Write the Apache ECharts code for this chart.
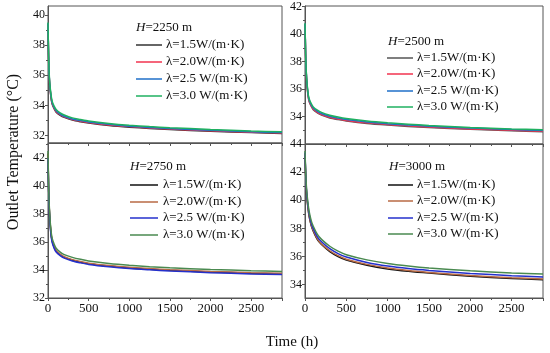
<!DOCTYPE html>
<html>
<head>
<meta charset="utf-8">
<script src="https://cdn.jsdelivr.net/npm/echarts@6/dist/echarts.min.js"></script>
<style>html,body{margin:0;padding:0;background:#fff}#c{width:550px;height:353px}</style>
</head>
<body>
<div id="c"></div>
<script>
// ---- data ----
const times = [0, 5, 10, 20, 35, 50, 75, 100, 150, 200, 300, 400, 500, 750, 1000, 1250, 1500, 2000, 2500, 2880];
const xTicks = [0, 500, 1000, 1500, 2000, 2500];
const lambdaLabels = ['λ=1.5W/(m·K)', 'λ=2.0W/(m·K)', 'λ=2.5 W/(m·K)', 'λ=3.0 W/(m·K)'];
const depthLabels = ['2250', '2500', '2750', '3000'];

// H = 2250 m
const h2250_l15 = [39.4, 37.8, 36.6, 35.4, 34.6, 34.1, 33.78, 33.55, 33.34, 33.2, 33.02, 32.91, 32.82, 32.66, 32.55, 32.47, 32.4, 32.28, 32.19, 32.13];
const h2250_l20 = [39.4, 37.85, 36.65, 35.45, 34.65, 34.15, 33.82, 33.6, 33.38, 33.24, 33.06, 32.95, 32.86, 32.7, 32.59, 32.5, 32.43, 32.31, 32.22, 32.16];
const h2250_l25 = [39.45, 37.9, 36.7, 35.5, 34.7, 34.2, 33.87, 33.65, 33.42, 33.28, 33.1, 32.99, 32.9, 32.74, 32.62, 32.53, 32.46, 32.34, 32.25, 32.19];
const h2250_l30 = [39.5, 38.0, 36.8, 35.6, 34.8, 34.3, 33.95, 33.73, 33.5, 33.36, 33.17, 33.06, 32.96, 32.8, 32.68, 32.59, 32.52, 32.4, 32.3, 32.24];
// H = 2500 m
const h2500_l15 = [40.7, 39.2, 37.9, 36.6, 35.6, 35.1, 34.75, 34.5, 34.26, 34.1, 33.9, 33.78, 33.68, 33.5, 33.38, 33.28, 33.2, 33.07, 32.97, 32.9];
const h2500_l20 = [40.7, 39.25, 37.95, 36.65, 35.65, 35.15, 34.8, 34.55, 34.31, 34.15, 33.95, 33.82, 33.72, 33.54, 33.42, 33.32, 33.24, 33.1, 33.0, 32.93];
const h2500_l25 = [40.75, 39.3, 38.0, 36.72, 35.72, 35.22, 34.87, 34.62, 34.38, 34.22, 34.02, 33.89, 33.78, 33.6, 33.48, 33.38, 33.3, 33.16, 33.05, 32.98];
const h2500_l30 = [40.8, 39.4, 38.1, 36.8, 35.8, 35.3, 34.95, 34.7, 34.46, 34.3, 34.1, 33.96, 33.85, 33.67, 33.54, 33.44, 33.35, 33.21, 33.1, 33.03];
// H = 2750 m
const h2750_l15 = [42.3, 40.6, 39.3, 37.9, 36.7, 36.1, 35.65, 35.35, 35.08, 34.9, 34.7, 34.56, 34.45, 34.28, 34.15, 34.06, 33.98, 33.86, 33.77, 33.72];
const h2750_l20 = [42.3, 40.65, 39.35, 37.95, 36.75, 36.15, 35.7, 35.4, 35.13, 34.95, 34.74, 34.6, 34.49, 34.32, 34.19, 34.1, 34.02, 33.9, 33.81, 33.76];
const h2750_l25 = [42.0, 40.5, 39.2, 37.8, 36.6, 36.0, 35.56, 35.28, 35.02, 34.85, 34.64, 34.51, 34.4, 34.23, 34.1, 34.01, 33.93, 33.81, 33.72, 33.67];
const h2750_l30 = [42.5, 40.8, 39.5, 38.1, 36.9, 36.3, 35.85, 35.55, 35.28, 35.1, 34.9, 34.76, 34.65, 34.47, 34.34, 34.24, 34.16, 34.04, 33.95, 33.9];
// H = 3000 m
const h3000_l15 = [43.3, 42.3, 41.5, 40.4, 39.5, 38.85, 38.2, 37.8, 37.2, 36.85, 36.35, 36.0, 35.75, 35.38, 35.12, 34.95, 34.82, 34.6, 34.44, 34.35];
const h3000_l20 = [43.3, 42.35, 41.55, 40.45, 39.55, 38.9, 38.25, 37.85, 37.26, 36.9, 36.41, 36.06, 35.81, 35.44, 35.18, 35.0, 34.87, 34.65, 34.49, 34.4];
const h3000_l25 = [43.4, 42.45, 41.65, 40.55, 39.68, 39.03, 38.38, 37.98, 37.4, 37.05, 36.56, 36.21, 35.96, 35.58, 35.32, 35.14, 35.01, 34.8, 34.64, 34.55];
const h3000_l30 = [43.5, 42.6, 41.8, 40.7, 39.85, 39.2, 38.55, 38.15, 37.57, 37.22, 36.73, 36.38, 36.13, 35.76, 35.5, 35.32, 35.18, 34.98, 34.83, 34.75];

// y tick labels per panel
const yLabels0 = [32, 34, 36, 38, 40];
const yLabels1 = [34, 36, 38, 40, 42];
const yLabels2 = [32, 34, 36, 38, 40, 42];
const yLabels3 = [34, 36, 38, 40, 42, 44];
const yMinor0 = [33, 35, 37, 39];
const yMinor1 = [33, 35, 37, 39, 41];
const yMinor2 = [33, 35, 37, 39, 41, 43];
const yMinor3 = [35, 37, 39, 41, 43];

// ---- layout / style ----
const FONT = '"Liberation Serif", "DejaVu Serif", serif';
const panels = [
  {grid: {left: 48, top: 6, width: 234, height: 137}, yMin: 31.5, yMax: 40.6, labels: yLabels0, minor: yMinor0, xLabels: false,
   data: [h2250_l15, h2250_l20, h2250_l25, h2250_l30], colors: ['#333333', '#f2334f', '#1f6fc8', '#1fb060'],
   leg: {hx: 136, hy: 28, ys: [45, 62, 79, 96], x0: 136, x1: 162, tx: 166}},
  {grid: {left: 305, top: 6, width: 238, height: 138}, yMin: 32, yMax: 42.05, labels: yLabels1, minor: yMinor1, xLabels: false,
   data: [h2500_l15, h2500_l20, h2500_l25, h2500_l30], colors: ['#555555', '#f2334f', '#1f6fc8', '#1fb060'],
   leg: {hx: 388, hy: 42, ys: [58, 74, 91, 107], x0: 387, x1: 413, tx: 417}},
  {grid: {left: 48, top: 143, width: 234, height: 155}, yMin: 32, yMax: 43.07, labels: yLabels2, minor: yMinor2, xLabels: true,
   data: [h2750_l15, h2750_l20, h2750_l25, h2750_l30], colors: ['#111111', '#b86a45', '#2530cc', '#4a8a50'],
   leg: {hx: 130, hy: 167, ys: [185, 202, 218, 235], x0: 130, x1: 158, tx: 163}},
  {grid: {left: 305, top: 144, width: 238, height: 154}, yMin: 33.05, yMax: 44, labels: yLabels3, minor: yMinor3, xLabels: true,
   data: [h3000_l15, h3000_l20, h3000_l25, h3000_l30], colors: ['#111111', '#b86a45', '#2530cc', '#4a8a50'],
   leg: {hx: 389, hy: 167, ys: [185, 201, 218, 234], x0: 388, x1: 413, tx: 417}}
];

const grids = [], xAxes = [], yAxes = [], series = [], graphics = [];
panels.forEach((p, k) => {
  grids.push(Object.assign({show: true, borderColor: '#555', borderWidth: 1, backgroundColor: 'transparent'}, p.grid));
  xAxes.push({
    type: 'value', gridIndex: k, min: 0, max: 2880, interval: 500,
    axisLine: {show: true, lineStyle: {color: '#555', width: 1}},
    axisTick: {show: true, length: 3, lineStyle: {color: '#555'}},
    minorTick: {show: true, splitNumber: 2, length: 2, lineStyle: {color: '#555'}},
    splitLine: {show: false}, minorSplitLine: {show: false},
    axisLabel: {show: p.xLabels, color: '#111', fontFamily: FONT, fontSize: 13, margin: 4,
      showMaxLabel: false, formatter: v => (xTicks.indexOf(v) >= 0 ? String(v) : '')}
  });
  yAxes.push({
    type: 'value', gridIndex: k, min: p.yMin, max: p.yMax,
    axisLine: {show: true, lineStyle: {color: '#555', width: 1}},
    axisTick: {show: true, length: 3, customValues: p.labels, lineStyle: {color: '#555'}},
    axisLabel: {show: true, customValues: p.labels, color: '#111', fontFamily: FONT, fontSize: 12, margin: 3},
    splitLine: {show: false}
  });
  p.data.forEach((arr, j) => {
    series.push({
      type: 'line', name: lambdaLabels[j] + ' H=' + depthLabels[k], xAxisIndex: k, yAxisIndex: k,
      data: times.map((t, i) => [t, arr[i]]),
      showSymbol: false, smooth: 0.25,
      lineStyle: {color: p.colors[j], width: 1.5}, itemStyle: {color: p.colors[j]},
      z: 2 + j, silent: true, animation: false
    });
  });
  // legend
  const L = p.leg;
  graphics.push({type: 'text', x: L.hx, y: L.hy, style: {
    text: '{i|H}=' + depthLabels[k] + ' m', fill: '#111', font: '13px ' + FONT, verticalAlign: 'middle',
    rich: {i: {fontStyle: 'italic', fontFamily: FONT, fontSize: 13, fill: '#111'}}}});
  L.ys.forEach((yy, j) => {
    graphics.push({type: 'line', shape: {x1: L.x0, y1: yy, x2: L.x1, y2: yy}, style: {stroke: p.colors[j], lineWidth: 1.5}});
    graphics.push({type: 'text', x: L.tx, y: yy, style: {text: lambdaLabels[j], fill: '#111', font: '13px ' + FONT, verticalAlign: 'middle'}});
  });
});
// minor y ticks overlay axes
panels.forEach((p, k) => {
  yAxes.push({
    type: 'value', gridIndex: k, min: p.yMin, max: p.yMax, position: 'left',
    axisLine: {show: false},
    axisTick: {show: true, length: 2, customValues: p.minor, lineStyle: {color: '#555'}},
    axisLabel: {show: false}, splitLine: {show: false}
  });
});

graphics.push({type: 'text', x: 14, y: 152, rotation: Math.PI / 2, style: {
  text: 'Outlet Temperature (°C)', fill: '#111', font: '16px ' + FONT, align: 'center', verticalAlign: 'middle'}});
graphics.push({type: 'text', x: 292, y: 342, style: {
  text: 'Time (h)', fill: '#111', font: '15px ' + FONT, align: 'center', verticalAlign: 'middle'}});

const chart = echarts.init(document.getElementById('c'), null, {renderer: 'canvas'});
chart.setOption({
  animation: false,
  backgroundColor: '#fff',
  grid: grids, xAxis: xAxes, yAxis: yAxes, series: series, graphic: graphics
});
</script>
</body>
</html>
